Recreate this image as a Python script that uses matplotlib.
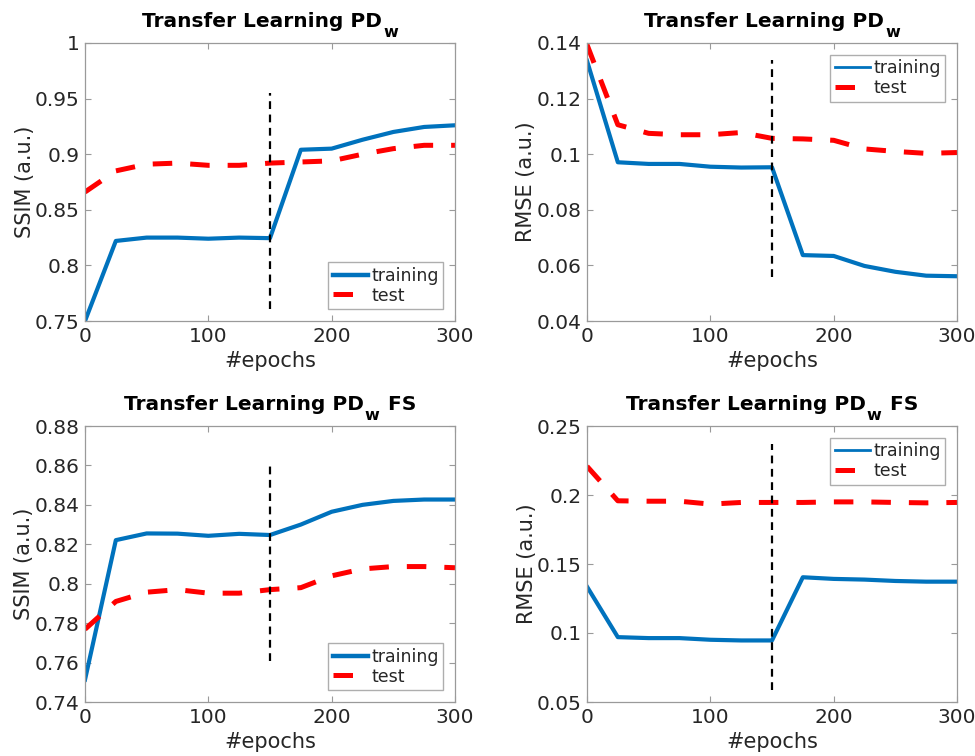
import matplotlib
matplotlib.use("Agg")
import matplotlib.pyplot as plt
from matplotlib.transforms import offset_copy

epochs = [0, 25, 50, 75, 100, 125, 150, 175, 200, 225, 250, 275, 300]
switch_epoch = 150

ssim_train_pdw = [0.750, 0.822, 0.825, 0.825, 0.824, 0.825, 0.8245, 0.904, 0.905, 0.913, 0.920, 0.9245, 0.926]
ssim_test_pdw = [0.866, 0.885, 0.891, 0.892, 0.890, 0.890, 0.892, 0.893, 0.894, 0.900, 0.905, 0.908, 0.908]

rmse_train_pdw = [0.1336, 0.0971, 0.0965, 0.0965, 0.0955, 0.0952, 0.0953, 0.0637, 0.0634, 0.0598, 0.0577, 0.0563, 0.0561]
rmse_test_pdw = [0.1394, 0.1106, 0.1075, 0.1070, 0.1070, 0.1078, 0.1057, 0.1055, 0.1050, 0.1019, 0.1010, 0.1003, 0.1006]

ssim_train_fs = [0.7513, 0.8221, 0.8255, 0.8254, 0.8243, 0.8253, 0.8247, 0.8300, 0.8365, 0.8400, 0.8420, 0.8427, 0.8427]
ssim_test_fs = [0.7769, 0.7910, 0.7957, 0.7970, 0.7952, 0.7952, 0.7970, 0.7980, 0.8040, 0.8075, 0.8087, 0.8087, 0.8081]

rmse_train_fs = [0.1336, 0.0970, 0.0963, 0.0963, 0.0951, 0.0946, 0.0946, 0.1404, 0.1392, 0.1387, 0.1377, 0.1372, 0.1372]
rmse_test_fs = [0.2208, 0.1958, 0.1955, 0.1955, 0.1934, 0.1946, 0.1946, 0.1946, 0.1950, 0.1950, 0.1946, 0.1943, 0.1946]

# title pieces: main text, subscript, trailing text
title_pdw = ("Transfer Learning PD", "w", "")
title_fs = ("Transfer Learning PD", "w", " FS")

plt.rcParams["font.family"] = ["DejaVu Sans"]

BLUE = "#0072BD"
RED = "#FF0000"
GRID_GREY = "#9a9a9a"
TEXT = "#262626"

fig = plt.figure(figsize=(9.75, 7.56), dpi=100)

# axes rectangles in figure fractions (left, bottom, width, height)
W, H = 975.0, 756.0
rects = [
    (85 / W, 1 - 321 / H, 370 / W, 278 / H),
    (587 / W, 1 - 321 / H, 370 / W, 278 / H),
    (85 / W, 1 - 702 / H, 370 / W, 276 / H),
    (587 / W, 1 - 702 / H, 370 / W, 276 / H),
]

panels = [
    dict(train=ssim_train_pdw, test=ssim_test_pdw, title=title_pdw, ylabel="SSIM (a.u.)",
         ylim=(0.75, 1.0), yticks=[0.75, 0.8, 0.85, 0.9, 0.95, 1.0],
         yticklabels=["0.75", "0.8", "0.85", "0.9", "0.95", "1"],
         vline=(0.7605, 0.955), loc="lower right", leg_lw=3.2),
    dict(train=rmse_train_pdw, test=rmse_test_pdw, title=title_pdw, ylabel="RMSE (a.u.)",
         ylim=(0.04, 0.14), yticks=[0.04, 0.06, 0.08, 0.1, 0.12, 0.14],
         yticklabels=["0.04", "0.06", "0.08", "0.1", "0.12", "0.14"],
         vline=(0.056, 0.134), loc="upper right", leg_lw=2.0),
    dict(train=ssim_train_fs, test=ssim_test_fs, title=title_fs, ylabel="SSIM (a.u.)",
         ylim=(0.74, 0.88), yticks=[0.74, 0.76, 0.78, 0.8, 0.82, 0.84, 0.86, 0.88],
         yticklabels=["0.74", "0.76", "0.78", "0.8", "0.82", "0.84", "0.86", "0.88"],
         vline=(0.7606, 0.860), loc="lower right", leg_lw=3.2),
    dict(train=rmse_train_fs, test=rmse_test_fs, title=title_fs, ylabel="RMSE (a.u.)",
         ylim=(0.05, 0.25), yticks=[0.05, 0.1, 0.15, 0.2, 0.25],
         yticklabels=["0.05", "0.1", "0.15", "0.2", "0.25"],
         vline=(0.059, 0.237), loc="upper right", leg_lw=2.0),
]

title_groups = []

for rect, p in zip(rects, panels):
    ax = fig.add_axes(rect)
    ax.plot(epochs, p["train"], color=BLUE, lw=3.0, solid_joinstyle="round", label="training")
    ax.plot(epochs, p["test"], color=RED, lw=3.6, dashes=(3.9, 3.6), label="test")
    ax.plot([switch_epoch, switch_epoch], p["vline"], color="black", lw=1.6, dashes=(3.5, 2.5))

    ax.set_xlim(0, 300)
    ax.set_ylim(*p["ylim"])
    ax.set_xticks([0, 100, 200, 300])
    ax.set_yticks(p["yticks"])
    ax.set_yticklabels(p["yticklabels"])
    ax.tick_params(direction="in", top=True, right=True, length=4, width=0.8,
                   colors=GRID_GREY, labelcolor=TEXT, labelsize=14.5, pad=4)
    for s in ax.spines.values():
        s.set_color(GRID_GREY)
        s.set_linewidth(0.9)

    ax.set_xlabel("#epochs", fontsize=15, color=TEXT, labelpad=4)
    ax.set_ylabel(p["ylabel"], fontsize=15, color=TEXT, labelpad=0)

    # title with a dropped subscript, built from separate text pieces
    main, sub, tail = p["title"]
    kw = dict(ha="left", va="baseline", fontweight="bold", color="black")
    t_main = ax.text(0.5, 1.0, main, fontsize=14.5,
                     transform=offset_copy(ax.transAxes, fig=fig, x=0, y=16, units="dots"), **kw)
    t_sub = ax.text(0.5, 1.0, sub, fontsize=11.5,
                    transform=offset_copy(ax.transAxes, fig=fig, x=0, y=6, units="dots"), **kw)
    pieces = [t_main, t_sub]
    if tail:
        t_tail = ax.text(0.5, 1.0, tail, fontsize=14.5,
                         transform=offset_copy(ax.transAxes, fig=fig, x=0, y=16, units="dots"), **kw)
        pieces.append(t_tail)
    title_groups.append((ax, pieces))

    leg = ax.legend(loc=p["loc"], fontsize=12.5, frameon=True, fancybox=False,
                    borderpad=0.25, handlelength=2.0, handletextpad=0.2,
                    labelspacing=0.1, borderaxespad=0.7)
    leg.get_frame().set_edgecolor(GRID_GREY)
    leg.get_frame().set_linewidth(1.0)
    for t in leg.get_texts():
        t.set_color(TEXT)
    leg.get_lines()[0].set_linewidth(p["leg_lw"])

# lay out the title pieces side by side and centre the group over its axes
fig.canvas.draw()
renderer = fig.canvas.get_renderer()
for ax, pieces in title_groups:
    widths = [pc.get_window_extent(renderer).width for pc in pieces]
    gaps = [0.0] + [1.0] * (len(pieces) - 1)
    total = sum(widths) + sum(gaps)
    ab = ax.get_window_extent(renderer)
    x = (ab.x0 + ab.x1) / 2 - total / 2
    for pc, w, g in zip(pieces, widths, gaps):
        x += g
        pc.set_x((x - ab.x0) / ab.width)
        x += w

fig.savefig("out.png", dpi=100, facecolor="white")
